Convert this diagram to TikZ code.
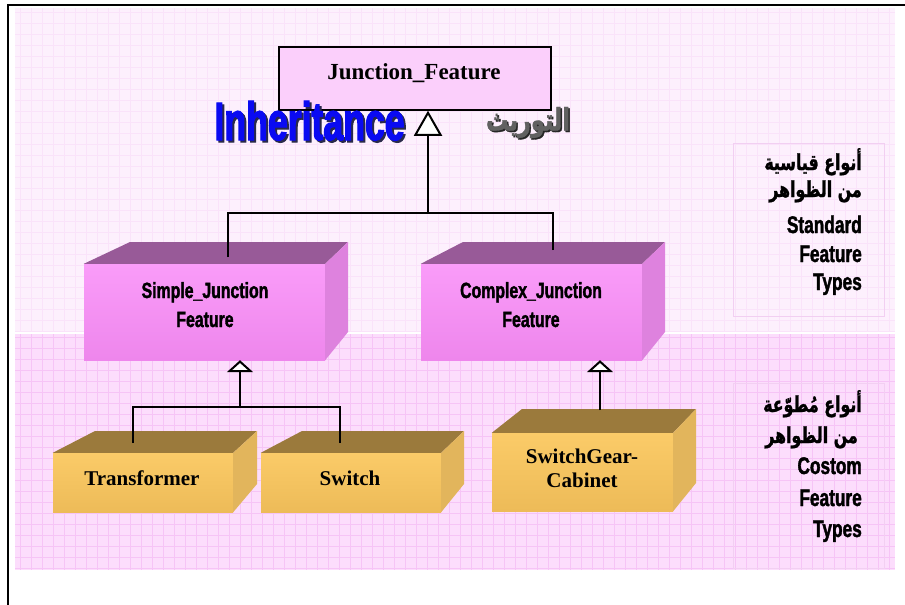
\documentclass[tikz,border=0pt]{standalone}
\usepackage{fontspec}
\setmainfont{Liberation Serif}
\newfontfamily\condfont{Liberation Sans Bold}[FakeStretch=0.72,FakeBold=1.6]
\newfontfamily\heavyfont{Liberation Sans Bold}[FakeStretch=0.66,FakeBold=2]
\newfontfamily\arabicnarrow[Script=Arabic,FakeStretch=0.72,FakeBold=1.2]{DejaVu Sans Bold}
\TeXXeTstate=1
\usetikzlibrary{arrows.meta}

\definecolor{bgupper}{HTML}{FDF0FD}
\definecolor{gridupper}{HTML}{FAE3FA}
\definecolor{bglower}{HTML}{FCDDFC}
\definecolor{gridlower}{HTML}{F6C4F6}
\definecolor{panelline}{HTML}{F2CFF2}
\definecolor{rootfill}{HTML}{FBCFFB}
\definecolor{pinkfrontA}{HTML}{FA9CF9}
\definecolor{pinkfrontB}{HTML}{EE86EC}
\definecolor{pinktop}{HTML}{985A98}
\definecolor{pinkside}{HTML}{DE82DE}
\definecolor{goldfrontA}{HTML}{FBCB68}
\definecolor{goldfrontB}{HTML}{EDBB58}
\definecolor{goldtop}{HTML}{9B7A3C}
\definecolor{goldside}{HTML}{E2B55C}
\definecolor{inhblue}{HTML}{0A0AF2}
\definecolor{inhshadow}{HTML}{2A2A4A}

% text with a dark drop shadow behind it
\newcommand{\shadowtext}[4]{\makebox[0pt][l]{\hspace{#1}\raisebox{-#1}{\textcolor{#2}{#4}}}\textcolor{#3}{#4}}

\begin{document}
\begin{tikzpicture}[x=1pt,y=-1pt,
  conn/.style={line width=2pt,draw=black},
  bigtri/.style={-{Triangle[fill=white,length=25pt,width=28pt]}},
  smalltri/.style={-{Triangle[fill=white,length=12pt,width=26pt]}},
  pinkface/.style={rectangle,draw=none,inner sep=0pt,top color=pinkfrontA,bottom color=pinkfrontB},
  goldface/.style={rectangle,draw=none,inner sep=0pt,top color=goldfrontA,bottom color=goldfrontB},
  boxlabel/.style={anchor=base,inner sep=0pt,align=center,font=\condfont\fontsize{22}{29}\selectfont},
  leaflabel/.style={anchor=base,inner sep=0pt,align=center,font=\bfseries\fontsize{21}{24}\selectfont},
  sidelatin/.style={anchor=base east,inner sep=0pt,font=\condfont\fontsize{24}{28}\selectfont},
  sidearabic/.style={anchor=base east,inner sep=0pt,font=\arabicnarrow\fontsize{22}{24}\selectfont}]

\useasboundingbox (0,0) rectangle (905,605);
\clip (0,0) rectangle (905,605);
\fill[white] (0,0) rectangle (905,605);

% background bands with grid
\fill[bgupper] (15,8) rectangle (895,332);
\begin{scope}
  \clip (15,8) rectangle (895,332);
  \foreach \gx in {20,31,...,895} \draw[gridupper,line width=0.6pt] (\gx,8) -- (\gx,332);
  \foreach \gy in {12,23,...,332} \draw[gridupper,line width=0.6pt] (15,\gy) -- (895,\gy);
\end{scope}
\fill[bglower] (15,334) rectangle (895,570);
\begin{scope}
  \clip (15,334) rectangle (895,570);
  \foreach \gx in {20,31,...,895} \draw[gridlower,line width=0.8pt] (\gx,334) -- (\gx,570);
  \foreach \gy in {337,348,...,570} \draw[gridlower,line width=0.8pt] (15,\gy) -- (895,\gy);
\end{scope}
\draw[panelline,line width=1pt] (733,143) rectangle (884,316);
\draw[panelline,line width=1pt] (733,383) rectangle (884,568);

% outer frame
\draw[line width=2pt] (8,620) -- (8,5) -- (920,5);

% root class
\node[rectangle,draw=black,line width=1.5pt,fill=rootfill,minimum width=272pt,minimum height=63pt,inner sep=0pt] (jf) at (415,78.5) {};
\node[anchor=base,inner sep=0pt,font=\bfseries\fontsize{23}{24}\selectfont] (jfl) at (414,79) {Junction\_Feature};

% titles
\node[anchor=base,inner sep=0pt,font=\heavyfont\fontsize{54}{56}\selectfont] (inh) at (309.5,140) {\shadowtext{2pt}{inhshadow}{inhblue}{Inheritance}};
\node[anchor=base,inner sep=0pt,font=\arabicnarrow\fontsize{31}{32}\selectfont] (tw) at (528,130.5) {\shadowtext{1.5pt}{black!85}{black!62}{\beginR التوريث\endR}};

% standard feature types (pink boxes)
\node[pinkface,minimum width=241pt,minimum height=96pt] (sj) at (204.5,312) {};
\fill[pinktop] (sj.north west) -- (130,242) -- (348,242) -- (sj.north east) -- cycle;
\fill[pinkside] (sj.north east) -- (348,242) -- (348,332) -- (sj.south east) -- cycle;
\node[boxlabel] (sjl) at (205,327) {Simple\_Junction\\Feature};

\node[pinkface,minimum width=221pt,minimum height=96pt] (cj) at (531.5,312) {};
\fill[pinktop] (cj.north west) -- (463,242) -- (665,242) -- (cj.north east) -- cycle;
\fill[pinkside] (cj.north east) -- (665,242) -- (665,332) -- (cj.south east) -- cycle;
\node[boxlabel] (cjl) at (531,327) {Complex\_Junction\\Feature};

% custom feature types (gold boxes)
\node[goldface,minimum width=180pt,minimum height=59pt] (tr) at (143,482.5) {};
\fill[goldtop] (tr.north west) -- (95,431) -- (257,431) -- (tr.north east) -- cycle;
\fill[goldside] (tr.north east) -- (257,431) -- (257,484) -- (tr.south east) -- cycle;
\node[leaflabel] (trl) at (142,485) {Transformer};

\node[goldface,minimum width=180pt,minimum height=59pt] (sw) at (351,482.5) {};
\fill[goldtop] (sw.north west) -- (302,431) -- (464,431) -- (sw.north east) -- cycle;
\fill[goldside] (sw.north east) -- (464,431) -- (464,484) -- (sw.south east) -- cycle;
\node[leaflabel] (swl) at (350,485) {Switch};

\node[goldface,minimum width=181pt,minimum height=78pt] (sg) at (582.5,472) {};
\fill[goldtop] (sg.north west) -- (522,409) -- (696,409) -- (sg.north east) -- cycle;
\fill[goldside] (sg.north east) -- (696,409) -- (696,483) -- (sg.south east) -- cycle;
\node[leaflabel] (sgl) at (582,487) {SwitchGear-\\Cabinet};

% inheritance connectors
\coordinate (hubA) at (428,213);
\coordinate (sjtop) at (228,257);
\coordinate (cjtop) at (553,250);
\draw[conn] (sjtop) |- (hubA);
\draw[conn] (cjtop) |- (hubA);
\draw[conn,bigtri] (hubA) -- (hubA |- jf.south);

\coordinate (hubB) at (240,407);
\coordinate (trtop) at (133,443);
\coordinate (swtop) at (340,443);
\draw[conn] (trtop) |- (hubB);
\draw[conn] (swtop) |- (hubB);
\draw[conn,smalltri] (hubB) -- (hubB |- sj.south);

\coordinate (sgtop) at (600,410);
\draw[conn,smalltri] (sgtop) -- (sgtop |- cj.south);

% side captions
\node[sidearabic] (sa1) at (862,170) {\beginR أنواع قياسية\endR};
\node[sidearabic] (sa2) at (862,197) {\beginR من الظواهر\endR};
\node[sidelatin] (sl1) at (862,233) {Standard};
\node[sidelatin] (sl2) at (862,262) {Feature};
\node[sidelatin] (sl3) at (862,290) {Types};

\node[sidearabic] (ca1) at (862,412) {\beginR أنواع مُطوّعة\endR};
\node[sidearabic] (ca2) at (858,443) {\beginR من الظواهر\endR};
\node[sidelatin] (cl1) at (862,474) {Costom};
\node[sidelatin] (cl2) at (862,506) {Feature};
\node[sidelatin] (cl3) at (862,537) {Types};
\end{tikzpicture}
\end{document}
